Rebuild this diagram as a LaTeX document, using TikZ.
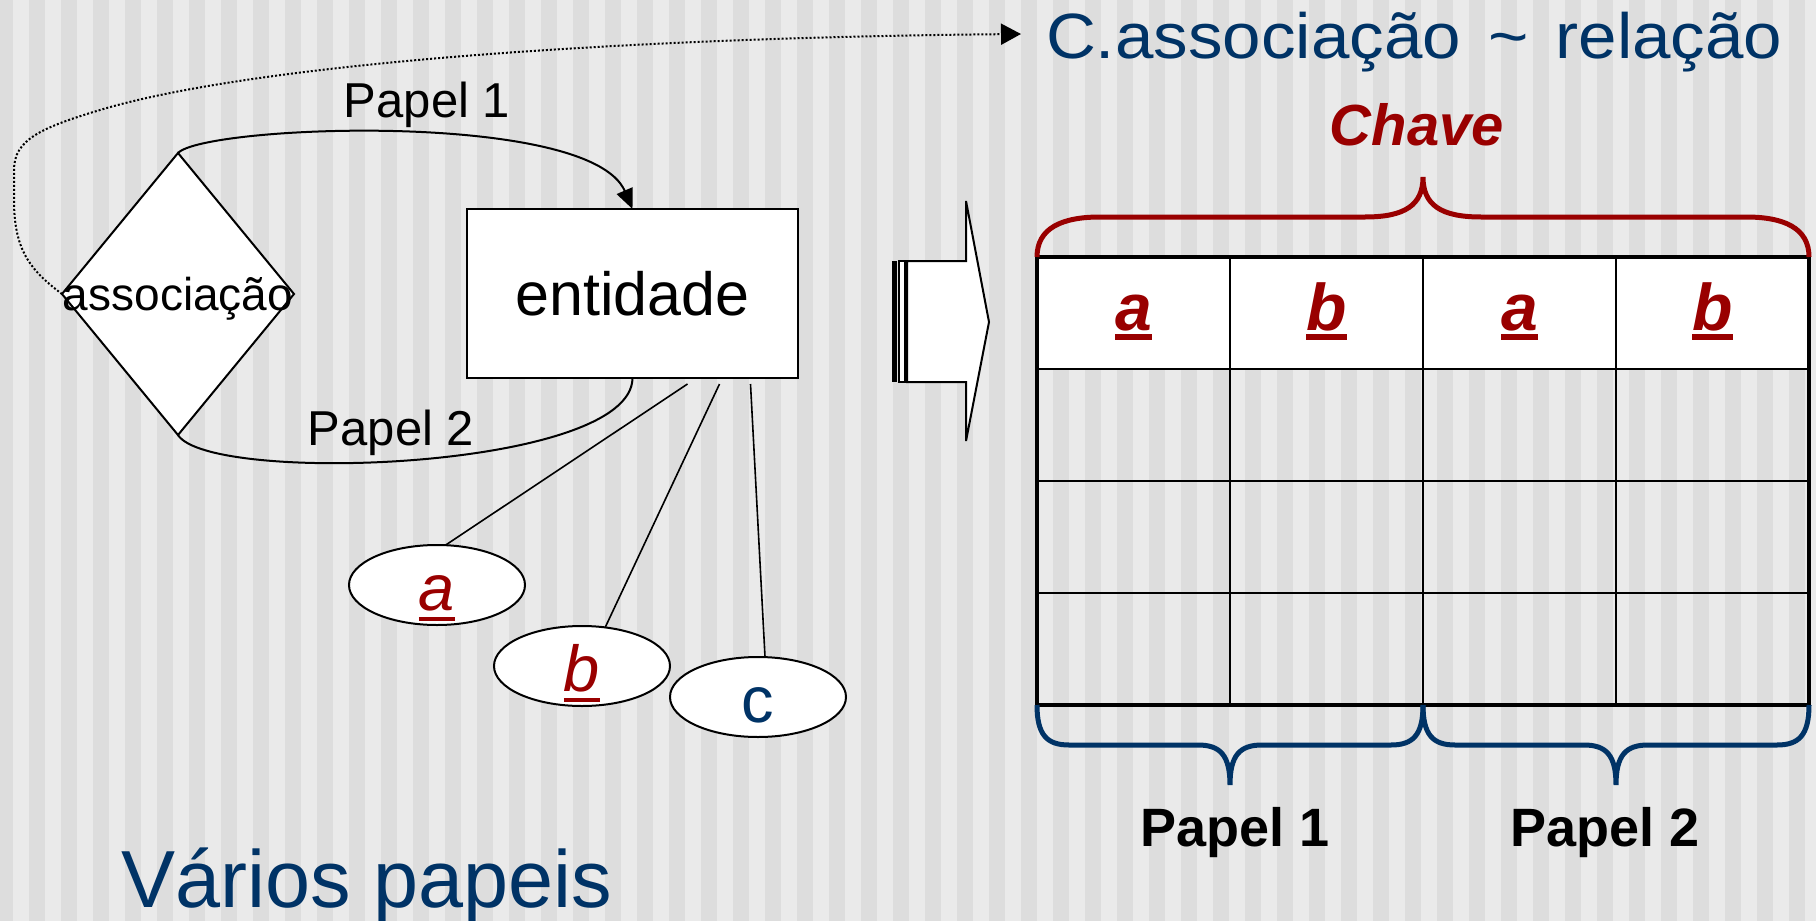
\documentclass[tikz,border=0pt]{standalone}
\definecolor{dred}{HTML}{990000}
\definecolor{dblue}{HTML}{003366}
\definecolor{stripeA}{HTML}{EAEAEA}
\definecolor{stripeB}{HTML}{DDDDDD}
\usepackage{fontspec}
\setmainfont{Liberation Sans}
\newfontfamily\widefont[FakeStretch=1.08]{Liberation Sans}
\usepackage{tikz}
\usetikzlibrary{arrows.meta}
\usetikzlibrary{shapes.geometric}
\newcommand{\keyline}[3]{\setbox0=\hbox{#3}\rlap{\rule[-#1]{\wd0}{#2}}\box0}

\begin{document}
\begin{tikzpicture}[x=0.5pt, y=-0.5pt,
	rel/.style={line width=1pt},
	attrline/.style={line width=0.8pt},
	cellline/.style={line width=1pt},
	entitybox/.style={draw, fill=white, line width=1pt, minimum width=165.5pt, minimum height=84.5pt, inner sep=0pt, outer sep=0pt, font=\fontsize{30.5}{36}\selectfont, text height=22pt, text depth=0pt},
	assocbox/.style={diamond, draw, fill=white, line width=1pt, minimum width=116pt, minimum height=141pt, inner sep=0pt, outer sep=0pt, font=\fontsize{23}{28}\selectfont, text height=17pt, text depth=1pt},
	attrnode/.style={ellipse, draw, fill=white, line width=1pt, minimum width=88pt, minimum height=40pt, inner sep=0pt, outer sep=0pt, font=\fontsize{32.5}{38}\selectfont, text height=25pt, text depth=0pt},
	rolelabel/.style={anchor=base, font=\fontsize{24.5}{29}\selectfont},
	hdr/.style={anchor=base, text=dred, font=\fontsize{33}{38}\selectfont\bfseries\itshape},
	colrole/.style={anchor=base, font=\fontsize{27}{32}\selectfont\bfseries}]
	\useasboundingbox (0,0) rectangle (1816,921);
	\fill[stripeA] (0,0) rectangle (1816,921);
	\foreach \k in {-1,...,56}
	\fill[stripeB] ({29+32*\k},0) rectangle ({45+32*\k},921);
	%left diagram
	\node[assocbox] (assoc) at (178,294) {\makebox[0pt]{associação}};
	\node[entitybox] (entity) at (632.5,293.5) {entidade};
	\node[attrnode, text=dred] (attA) at (437,585) {\keyline{5.5pt}{2pt}{\itshape a}};
	\node[attrnode, text=dred] (attB) at (582,666) {\keyline{5.5pt}{2pt}{\itshape b}};
	\node[attrnode, text=dblue] (attC) at (758,697) {c};
	\coordinate (ea) at ([shift={(55,6)}]entity.south);
	\coordinate (eb) at ([shift={(87,6)}]entity.south);
	\coordinate (ec) at ([shift={(118,6)}]entity.south);
	\draw[attrline] (ea) -- (attA.78);
	\draw[attrline] (eb) -- (attB.59);
	\draw[attrline] (ec) -- (attC.80);
	\draw[rel, -{Triangle[length=10pt,width=8.5pt]}] (assoc.north) .. controls (205,125) and (590,110) .. (entity.north);
	\draw[rel] (entity.south) .. controls (632,470) and (210,485) .. (assoc.south);
	\node[rolelabel] (roleA) at (427,117) {Papel 1};
	\node[rolelabel] (roleB) at (391,445) {Papel 2};
	\node[anchor=base west, text=dblue, font=\fontsize{40.5}{48}\selectfont] (heading) at (114,907) {Vários papeis};
	%dotted link to the title
	\node[anchor=base west, text=dblue, font=\widefont\fontsize{32}{38}\selectfont] (title) at (1039,58) {C.associação\hspace{4pt} \textasciitilde\hspace{4pt} relação};
	\coordinate (tip) at ([shift={(-18,0)}]title.base west |- 0,34);
	\draw[line width=1pt, dash pattern=on 1pt off 1pt, -{Triangle[length=10pt,width=10.5pt]}] (assoc.west) .. controls (30,270) and (14,250) .. (14,200) -- (14,170) .. controls (14,140) and (40,128) .. (100,110) .. controls (250,65) and (600,38) .. (tip);
	%block arrow
	\filldraw[fill=white, line width=1pt] (907,261) -- (966,261) -- (966,201) -- (989,322) -- (966,441) -- (966,382) -- (907,382) -- cycle;
	\filldraw[fill=white, line width=1pt] (899,261) rectangle (905,382);
	\fill (892,261) rectangle (897,382);
	%table
	\fill[white] (1037,257) rectangle (1809,369);
	\foreach \x in {1230,1423,1616}
	\draw[cellline] (\x,257) -- (\x,705);
	\foreach \y in {369,481,593}
	\draw[cellline] (1037,\y) -- (1809,\y);
	\draw[line width=2.25pt] (1037,257) rectangle (1809,705);
	\foreach \t [count=\i from 0] in {a, b, a, b}
	\node[hdr] (col\i) at ({1133.5+193*\i},330) {\keyline{5pt}{3pt}{\t}};
	%braces
	\draw[dred, line width=2.5pt] (1037,257) .. controls (1037,228) and (1062,217) .. (1100,217) -- (1365,217) .. controls (1405,217) and (1423,205) .. (1423,177) .. controls (1423,205) and (1441,217) .. (1481,217) -- (1746,217) .. controls (1784,217) and (1809,228) .. (1809,257);
	\node[anchor=base, text=dred, font=\fontsize{29}{34}\selectfont\bfseries\itshape] (key) at (1417,145) {Chave};
	\foreach \lx/\rx [evaluate=\lx as \mx using (\lx+\rx)/2] in {1037/1423, 1423/1809}
	\draw[dblue, line width=2.5pt] (\lx,705) .. controls (\lx,735) and ({\lx+10},745) .. ({\lx+32},745) -- ({\mx-32},745) .. controls ({\mx-10},745) and (\mx,755) .. (\mx,785) .. controls (\mx,755) and ({\mx+10},745) .. ({\mx+32},745) -- ({\rx-32},745) .. controls ({\rx-10},745) and (\rx,735) .. (\rx,705);
	\node[colrole] (roleC) at (1235,846) {Papel 1};
	\node[colrole] (roleD) at (1605,846) {Papel 2};
\end{tikzpicture}
\end{document}
